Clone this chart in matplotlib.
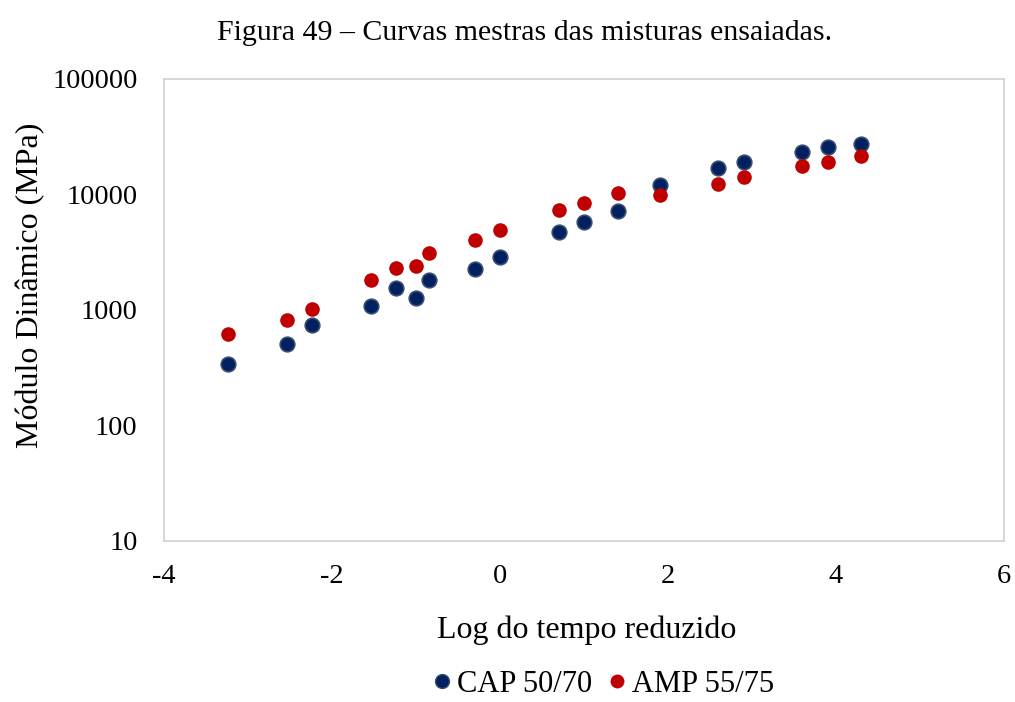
import numpy as np
import matplotlib.pyplot as plt
from matplotlib.lines import Line2D

plt.rcParams['font.family'] = ['Liberation Serif', 'DejaVu Serif']

# Log do tempo reduzido
log_t = [-3.24, -2.54, -2.24, -1.54, -1.24, -1.0, -0.84, -0.3, 0.0,
         0.7, 1.0, 1.4, 1.9, 2.6, 2.9, 3.6, 3.9, 4.3]
# Módulo dinâmico (MPa)
cap_5070 = [340, 500, 740, 1080, 1540, 1260, 1820, 2260, 2870,
            4750, 5730, 7190, 12070, 17030, 18980, 23440, 25600, 27500]
amp_5575 = [617, 816, 1016, 1800, 2300, 2410, 3120, 4030, 4890,
            7280, 8420, 10280, 9940, 12310, 14070, 17620, 19090, 21510]

fig = plt.figure(figsize=(10.15, 7.02), dpi=100)
ax = fig.add_axes([0.1616, 0.230, 0.8276, 0.6575])

ax.plot(log_t, cap_5070, 'o', color='#002060', markersize=10.5,
        markeredgecolor='#3B4E70', markeredgewidth=1.2, label='CAP 50/70')
ax.plot(log_t, amp_5575, 'o', color='#C00000', markersize=10.5,
        markeredgewidth=0, label='AMP 55/75')

ax.set_yscale('log')
ax.set_xlim(-4, 6)
ax.set_ylim(10, 100000)
ax.set_xticks([-4, -2, 0, 2, 4, 6])
ax.set_xticklabels(['-4', '-2', '0', '2', '4', '6'])
ax.set_yticks([10, 100, 1000, 10000, 100000])
ax.set_yticklabels(['10', '100', '1000', '10000', '100000'])
ax.minorticks_off()
ax.tick_params(length=0, labelsize=20.5, colors='black')
ax.tick_params(axis='x', pad=17)
ax.tick_params(axis='y', pad=19)
for s in ax.spines.values():
    s.set_color('#D0D0D0')
    s.set_linewidth(1.2)

fig.text(0.517, 0.953, 'Figura 49 – Curvas mestras das misturas ensaiadas.',
         ha='center', va='center', fontsize=21.5)
fig.text(0.578, 0.102, 'Log do tempo reduzido', ha='center', va='center', fontsize=23)
fig.text(0.030, 0.594, 'Módulo Dinâmico (MPa)', ha='center', va='center',
         rotation=90, fontsize=23)

handles = [Line2D([], [], marker='o', linestyle='none', color='#002060',
                  markeredgecolor='#3B4E70', markersize=10),
           Line2D([], [], marker='o', linestyle='none', color='#C00000',
                  markeredgewidth=0, markersize=10)]
fig.legend(handles, ['CAP 50/70', 'AMP 55/75'], loc='center',
           bbox_to_anchor=(0.590, 0.025), ncol=2, frameon=False, fontsize=22,
           handletextpad=-0.1, columnspacing=0.2, handlelength=1.2,
           borderpad=0.1)

fig.savefig('out.png', dpi=100)
